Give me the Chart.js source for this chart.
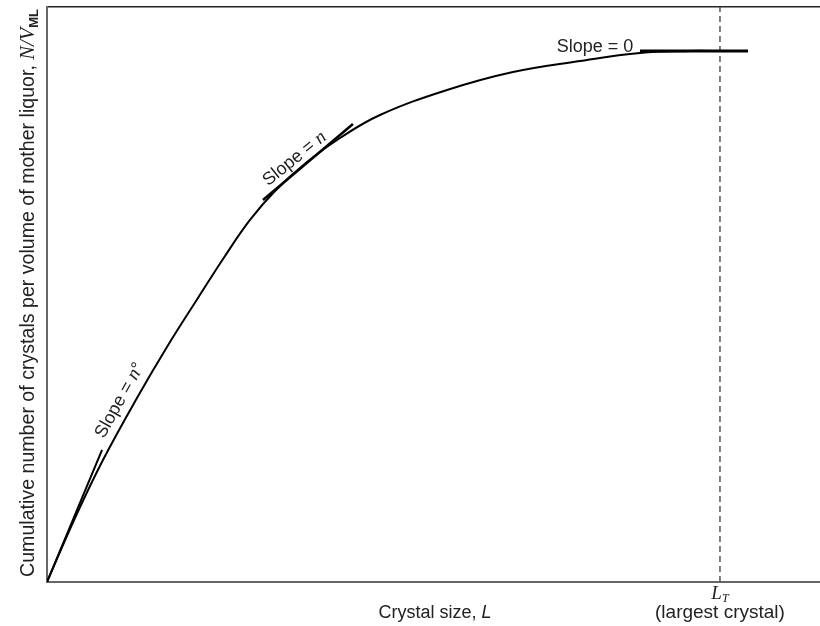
<!DOCTYPE html>
<html lang="en">
<head>
<meta charset="UTF-8">
<title>Cumulative number of crystals</title>
<script src="https://cdn.jsdelivr.net/npm/chart.js"></script>
<style>
  body { margin: 0; background: #fff; }
  #wrap { width: 820px; height: 626px; }
</style>
</head>
<body>
<div id="wrap"><canvas id="chart"></canvas></div>
<script>
// curve, arbitrary units (0-10 on both axes)
const curveX = [0, 0.362, 0.724, 1.164, 1.552, 1.953, 2.303, 2.626, 2.950, 3.364, 3.790, 4.308, 5.175, 6.028, 6.895, 7.671, 8.318, 8.706];
const curveY = [0, 1.113, 2.122, 3.2, 4.087, 4.939, 5.670, 6.296, 6.8, 7.304, 7.722, 8.122, 8.557, 8.870, 9.061, 9.2, 9.235, 9.235];

// tangent lines
const tanOriginX = [0, 0.712];
const tanOriginY = [0, 2.296];
const tanMidX = [2.794, 3.958];
const tanMidY = [6.643, 7.965];
const tanTopX = [7.671, 9.069];
const tanTopY = [9.235, 9.235];

// largest crystal L_T
const largestX = 8.706;
const largestY = [0, 10];

const toPoints = (xs, ys) => xs.map((x, i) => ({ x: x, y: ys[i] }));

const sans = '"Liberation Sans", Arial, sans-serif';
const serif = '"Liberation Serif", "Times New Roman", serif';

// draw a line of text made of parts, centred at (x, y), rotated by angle (deg)
function drawParts(ctx, x, y, angle, parts) {
    ctx.save();
    ctx.translate(x, y);
    ctx.rotate(angle * Math.PI / 180);
    ctx.textBaseline = 'alphabetic';
    let total = 0;
    parts.forEach(p => { ctx.font = p.font; total += ctx.measureText(p.text).width; });
    let cx = -total / 2;
    parts.forEach(p => {
        ctx.font = p.font;
        ctx.fillText(p.text, cx, 6 + (p.dy || 0));
        cx += ctx.measureText(p.text).width;
    });
    ctx.restore();
}

const textPlugin = {
    id: 'texts',
    afterDraw(chart) {
        const ctx = chart.ctx;
        const xs = chart.scales.x, ys = chart.scales.y;
        const area = chart.chartArea;
        ctx.fillStyle = '#222';

        // slope labels
        drawParts(ctx, xs.getPixelForValue(0.93), ys.getPixelForValue(3.165), -61, [
            { text: 'Slope = ', font: '18px ' + sans },
            { text: 'n', font: 'italic 19px ' + serif },
            { text: '°', font: '18px ' + sans }
        ]);
        drawParts(ctx, xs.getPixelForValue(3.195), ys.getPixelForValue(7.374), -39, [
            { text: 'Slope = ', font: '18px ' + sans },
            { text: 'n', font: 'italic 19px ' + serif }
        ]);
        drawParts(ctx, xs.getPixelForValue(7.089), ys.getPixelForValue(9.32), 0, [
            { text: 'Slope = 0', font: '18px ' + sans }
        ]);

        // x axis title
        drawParts(ctx, 435, area.bottom + 30, 0, [
            { text: 'Crystal size, ', font: '18px ' + sans },
            { text: 'L', font: 'italic 18px ' + sans }
        ]);
        const lx = xs.getPixelForValue(largestX);
        drawParts(ctx, lx, area.bottom + 11, 0, [
            { text: 'L', font: 'italic 19px ' + serif },
            { text: 'T', font: 'italic 12px ' + serif, dy: 3 }
        ]);
        drawParts(ctx, lx, area.bottom + 30, 0, [
            { text: '(largest crystal)', font: '19px ' + sans }
        ]);

        // y axis title
        drawParts(ctx, 28, area.top + 286, -90, [
            { text: 'Cumulative number of crystals per volume of mother liquor, ', font: '19.6px ' + sans },
            { text: 'N/V', font: 'italic 20.5px ' + serif },
            { text: 'ML', font: 'bold 13px ' + sans, dy: 4 }
        ]);
    }
};

const hiddenGrid = { display: false, drawTicks: false, tickLength: 0 };

new Chart(document.getElementById('chart'), {
    type: 'scatter',
    data: {
        datasets: [
            {
                data: toPoints(curveX, curveY),
                showLine: true,
                borderColor: '#000',
                borderWidth: 2,
                pointRadius: 0,
                tension: 0.4
            },
            {
                data: toPoints(tanOriginX, tanOriginY),
                showLine: true, borderColor: '#000', borderWidth: 2, pointRadius: 0
            },
            {
                data: toPoints(tanMidX, tanMidY),
                showLine: true, borderColor: '#000', borderWidth: 2.5, pointRadius: 0
            },
            {
                data: toPoints(tanTopX, tanTopY),
                showLine: true, borderColor: '#000', borderWidth: 3, pointRadius: 0
            },
            {
                data: toPoints([largestX, largestX], largestY),
                showLine: true, borderColor: '#555', borderWidth: 1.5,
                borderDash: [6, 4], pointRadius: 0
            }
        ]
    },
    options: {
        responsive: true,
        maintainAspectRatio: false,
        animation: false,
        layout: { padding: { left: 47, right: 0, top: 7, bottom: 44 } },
        plugins: {
            legend: { display: false },
            tooltip: { enabled: false }
        },
        scales: {
            x: {
                type: 'linear', min: 0, max: 10,
                grid: hiddenGrid,
                ticks: { display: false },
                border: { display: true, color: '#666', width: 2 }
            },
            xTop: {
                type: 'linear', position: 'top', min: 0, max: 10,
                grid: hiddenGrid,
                ticks: { display: false },
                border: { display: true, color: '#222', width: 1.5 }
            },
            y: {
                type: 'linear', min: 0, max: 10,
                grid: hiddenGrid,
                ticks: { display: false },
                border: { display: true, color: '#666', width: 2 }
            }
        }
    },
    plugins: [textPlugin]
});
</script>
</body>
</html>
